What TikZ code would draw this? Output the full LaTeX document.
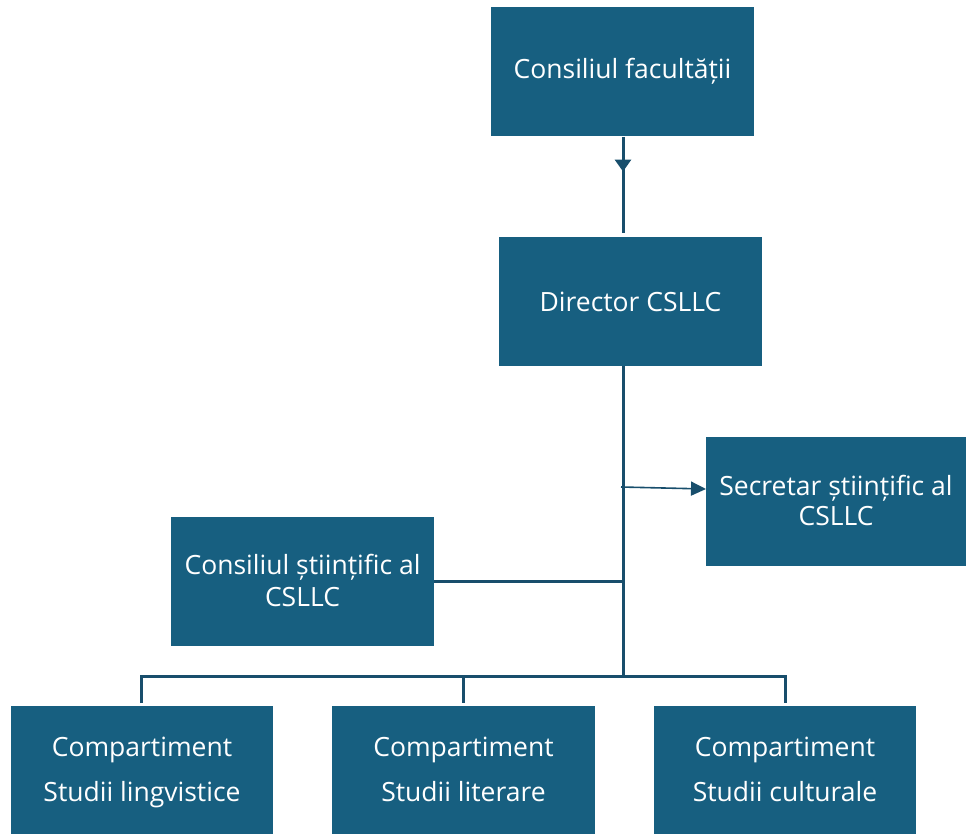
\documentclass[tikz,border=0pt]{standalone}
\usepackage{fontspec}
\setmainfont{Open Sans}
\usetikzlibrary{arrows.meta,decorations.markings}
\definecolor{boxblue}{RGB}{23,95,128}
\definecolor{lineblue}{RGB}{24,78,108}
\newcommand{\lowstrut}{\rule[-4.5pt]{0pt}{26pt}}
\tikzset{
  orgbox/.style={fill=boxblue, draw=none, text=white, minimum width=263pt, minimum height=129pt, inner sep=0pt, align=center, font=\fontsize{26.5}{32}\selectfont},
  conn/.style={draw=lineblue, line width=3pt},
  thinconn/.style={draw=lineblue, line width=1.6pt}
}
\begin{document}
\begin{tikzpicture}[x=1pt,y=-1pt]
\useasboundingbox (0,0) rectangle (966,834);
\node[orgbox] (cf) at (622.5,71.5) {Consiliul facultății};
\node[orgbox] (dir) at (630.5,301.5) {Director CSLLC};
\node[orgbox, minimum width=260pt, font=\fontsize{26.5}{30}\selectfont] (sec) at (836,501.5) {\lowstrut Secretar științific al\\\lowstrut CSLLC};
\node[orgbox] (cs) at (302.5,581.5) {\rule[-5pt]{0pt}{27pt}Consiliul științific al\\\rule[-5pt]{0pt}{27pt}CSLLC};
\node[orgbox, minimum width=262pt, minimum height=128pt, font=\fontsize{26.5}{45}\selectfont] (c1) at (142,770) {\strut Compartiment\\\strut Studii lingvistice};
\node[orgbox, minimum width=263pt, minimum height=128pt, font=\fontsize{26.5}{45}\selectfont] (c2) at (463.5,770) {\strut Compartiment\\\strut Studii literare};
\node[orgbox, minimum width=262pt, minimum height=128pt, font=\fontsize{26.5}{45}\selectfont] (c3) at (785,770) {\strut Compartiment\\\strut Studii culturale};
% coordinates
\coordinate (ctop) at (623,137);
\coordinate (cbot) at (623,233);
\coordinate (tr0) at (623,366);
\coordinate (tr1) at (623,676);
\coordinate (sa) at (621,487);
\coordinate (sb) at (706,489);
\coordinate (csj) at (623,581);
\coordinate (b1) at (141,676);
\coordinate (b3) at (785,676);
\coordinate (d1) at (141,703);
\coordinate (d2) at (463,676);
\coordinate (d2b) at (463,703);
\coordinate (d3) at (785,703);
% connectors
\draw[conn, postaction={decorate}, decoration={markings, mark=at position 0.36 with {\arrow{Triangle[width=16pt,length=12pt]}}}] (ctop) -- (cbot);
\draw[conn] (tr0) -- (tr1);
\draw[thinconn, -{Triangle[width=14pt,length=15pt]}] (sa) -- (sb);
\draw[conn] (cs.east |- csj) -- (csj);
\draw[conn] (d1) -- (b1) -- (b3) -- (d3);
\draw[conn] (d2) -- (d2b);
\end{tikzpicture}
\end{document}
